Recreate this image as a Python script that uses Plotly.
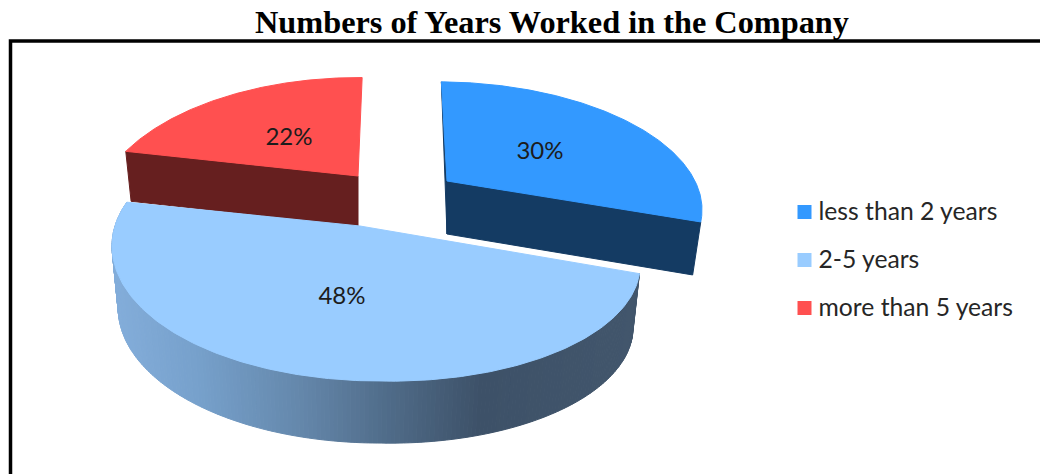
import math
import plotly.graph_objects as go

# Chart content
title_text = "Numbers of Years Worked in the Company"
categories = ["less than 2 years", "2-5 years", "more than 5 years"]
shares = [30, 48, 22]
top_colors = ["#3399ff", "#99ccff", "#ff5050"]
side_colors = ["#143b63", None, "#661f1f"]

# Wedge geometry of the tilted, exploded pie (one entry per category)
apex_x = [447, 360, 358]
apex_y = [181, 226, 176]
half_width = [248, 257.5, 252]
width_skew = [0, 12.5, 0]
tilt_height = [118, 121.6, 128]
perspective = [0.19, 0.2157, 0.30]
lean = [-11, -16, 1]
roll = [0, 5, 0]
depth = [53, 62, 50]
floor_scale = [0.968, 0.975, 0.977]
first_angle = 1.0

# Shading of the middle wedge's rim, left to right
rim_stop_x = [110, 200, 300, 390, 480, 640]
rim_stop_rgb = [(132, 174, 219), (118, 160, 203), (100, 135, 171),
                (79, 107, 136), (61, 81, 104), (66, 86, 108)]

# Label positions
label_x = [540, 342, 289]
label_y = [153, 298, 139]
key_marker_x = [804.5, 804.5, 804.5]
key_marker_y = [212, 260, 308]
key_text_x = [818.5, 818.5, 818.5]
key_text_y = [213.5, 261.5, 309.5]


def project(i, theta_deg, lower=False):
    """Screen position of the rim point of wedge i at a clockwise angle from twelve o'clock."""
    t = math.radians(theta_deg)
    s, c = math.sin(t), math.cos(t)
    scale = 1 / (1 + perspective[i] * c)
    f = half_width[i] + width_skew[i] * s
    dx = (f * s + lean[i] * c) * scale
    dy = (-tilt_height[i] * c + roll[i] * max(s, 0)) * scale
    if lower:
        return apex_x[i] + floor_scale[i] * dx, apex_y[i] + dy + depth[i]
    return apex_x[i] + dx, apex_y[i] + dy


def polygon(points, color):
    xs = [p[0] for p in points] + [points[0][0]]
    ys = [p[1] for p in points] + [points[0][1]]
    return go.Scatter(
        x=xs, y=ys, mode="lines", fill="toself", fillcolor=color,
        line=dict(color=color, width=1),
        hoverinfo="skip", showlegend=False,
    )


def rim_shade(x):
    if x <= rim_stop_x[0]:
        rgb = rim_stop_rgb[0]
    elif x >= rim_stop_x[-1]:
        rgb = rim_stop_rgb[-1]
    else:
        for k in range(len(rim_stop_x) - 1):
            if rim_stop_x[k] <= x <= rim_stop_x[k + 1]:
                u = (x - rim_stop_x[k]) / (rim_stop_x[k + 1] - rim_stop_x[k])
                rgb = tuple(a + (b - a) * u for a, b in zip(rim_stop_rgb[k], rim_stop_rgb[k + 1]))
                break
    return "rgb(%d,%d,%d)" % tuple(round(v) for v in rgb)


# Slice angles come directly from the shares
spans = []
cursor = first_angle
for share in shares:
    sweep = share / sum(shares) * 360
    spans.append((cursor, cursor + sweep))
    cursor += sweep

fig = go.Figure()

# Red first, then blue, then the large wedge in front
for i in [2, 0, 1]:
    a0, a1 = spans[i]
    steps = 220
    angles = [a0 + (a1 - a0) * k / steps for k in range(steps + 1)]

    # Rim of the large wedge; the rims of the other two stay hidden behind their cut faces
    if side_colors[i] is None:
        for k in range(steps):
            quad = [project(i, angles[k]), project(i, angles[k + 1]),
                    project(i, angles[k + 1], True), project(i, angles[k], True)]
            fig.add_trace(polygon(quad, rim_shade(sum(p[0] for p in quad) / 4)))

    apex_top = (apex_x[i], apex_y[i])
    apex_low = (apex_x[i], apex_y[i] + depth[i])

    # Cut faces that turn toward the viewer
    if i == 0:
        fig.add_trace(polygon([project(i, a0), apex_top, apex_low], side_colors[i]))
        fig.add_trace(polygon([project(i, a1), apex_top, apex_low, project(i, a1, True)], side_colors[i]))
    elif i == 2:
        fig.add_trace(polygon([project(i, a0), apex_top, apex_low, project(i, a0, True)], side_colors[i]))

    # Top surface
    fig.add_trace(polygon([apex_top] + [project(i, a) for a in angles], top_colors[i]))

# Percentage labels
fig.add_trace(go.Scatter(
    x=label_x, y=label_y, mode="text",
    text=[f"{v}%" for v in shares],
    textposition="middle center",
    textfont=dict(family="Lato", size=24, color="#1c1c1c"),
    hoverinfo="skip", showlegend=False,
))

# Key on the right
fig.add_trace(go.Scatter(
    x=key_marker_x, y=key_marker_y, mode="markers",
    marker=dict(symbol="square", size=14, color=top_colors, line=dict(width=0)),
    hoverinfo="skip", showlegend=False,
))
fig.add_trace(go.Scatter(
    x=key_text_x, y=key_text_y, mode="text",
    text=categories,
    textposition="middle right",
    textfont=dict(family="Lato", size=24.7, color="#262626"),
    hoverinfo="skip", showlegend=False,
))

fig.update_layout(
    width=1040, height=474,
    margin=dict(l=0, r=0, t=0, b=0),
    paper_bgcolor="white", plot_bgcolor="white",
    showlegend=False,
    xaxis=dict(range=[0, 1040], visible=False, fixedrange=True),
    yaxis=dict(range=[474, 0], visible=False, fixedrange=True),
    shapes=[dict(
        type="path", path="M 10.5 474 L 10.5 41 L 1040 41",
        xref="x", yref="y", line=dict(color="black", width=3.5),
    )],
    annotations=[dict(
        text=f"<b>{title_text}</b>", x=551.5, y=22, xref="x", yref="y",
        showarrow=False, xanchor="center", yanchor="middle",
        font=dict(family="Liberation Serif", size=32.3, color="black"),
    )],
)

fig.write_html("out.html", config=dict(displayModeBar=False))
